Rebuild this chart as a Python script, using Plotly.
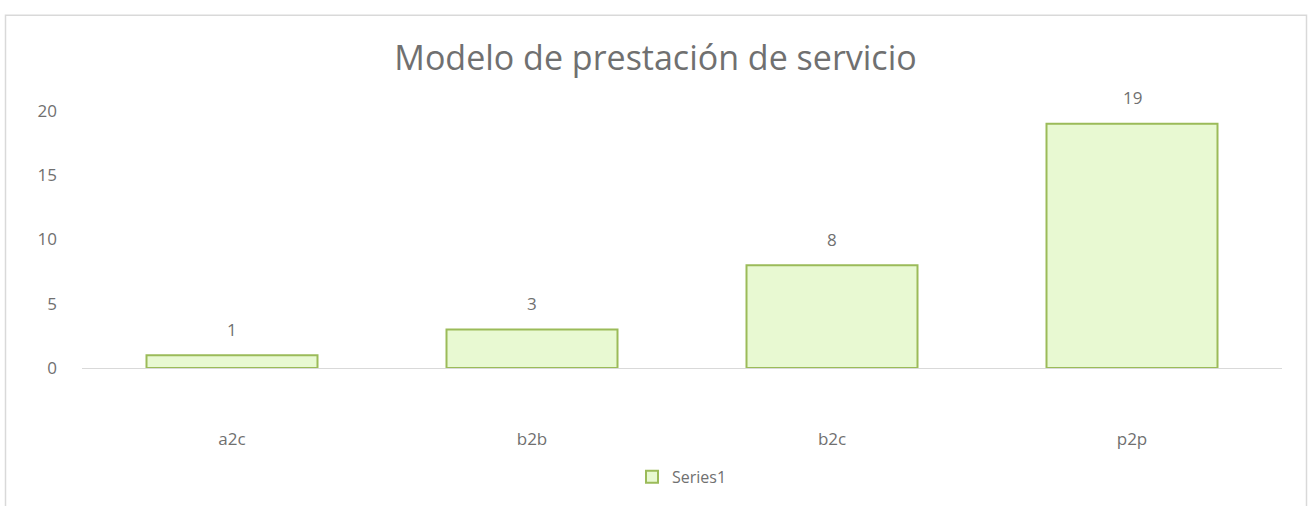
import plotly.graph_objects as go

categories = ["a2c", "b2b", "b2c", "p2p"]
values = [1, 3, 8, 19]
series_name = "Series1"
y_ticks = [0, 5, 10, 15, 20]

W, H = 1311, 506
L, R, T, B = 82, 29, 111, 133
pw = W - L - R
ph = H - T - B

def px_x(p):
    return (p - L) / pw

def px_y(p):
    return (H - B - p) / ph

grey = "#707070"
font_family = "Open Sans"

fig = go.Figure()
fig.add_trace(go.Bar(
    x=categories, y=values, name=series_name,
    marker=dict(color="#E8F9D2", line=dict(color="#9BBB59", width=2)),
    width=0.57,
))

annotations = [
    dict(x=c, y=v, xref="x", yref="y", text=str(v), showarrow=False,
         yanchor="middle", yshift=26,
         font=dict(color=grey, size=17, family=font_family))
    for c, v in zip(categories, values)
]

fig.update_layout(
    width=W, height=H,
    margin=dict(l=L, r=R, t=T, b=B),
    paper_bgcolor="white", plot_bgcolor="white",
    title=dict(text="Modelo de prestación de servicio", x=0.5, xanchor="center",
               y=1 - 58 / H, yanchor="middle",
               font=dict(size=34, color=grey, family=font_family)),
    showlegend=True,
    legend=dict(orientation="h", x=0.5, xanchor="center", y=px_y(484), yanchor="middle",
                font=dict(size=16, color=grey, family=font_family)),
    xaxis=dict(showline=True, linecolor="#D9D9D9", linewidth=1, ticks="",
               automargin=False, ticklabelstandoff=56,
               tickfont=dict(size=17, color=grey, family=font_family), showgrid=False),
    yaxis=dict(range=[0, 20], tickvals=y_ticks, showgrid=False, zeroline=False,
               showline=False, ticks="", ticklabelstandoff=24, automargin=False,
               tickfont=dict(size=17, color=grey, family=font_family)),
    annotations=annotations,
    shapes=[dict(type="rect", xref="paper", yref="paper",
                 x0=px_x(5.5), x1=px_x(1306.5), y0=px_y(530), y1=px_y(13.5),
                 line=dict(color="#D9D9D9", width=1.5), fillcolor="rgba(0,0,0,0)", layer="below")],
)

fig.write_html("out.html", config={"displayModeBar": False},
               post_script="document.body.style.margin='0';")
